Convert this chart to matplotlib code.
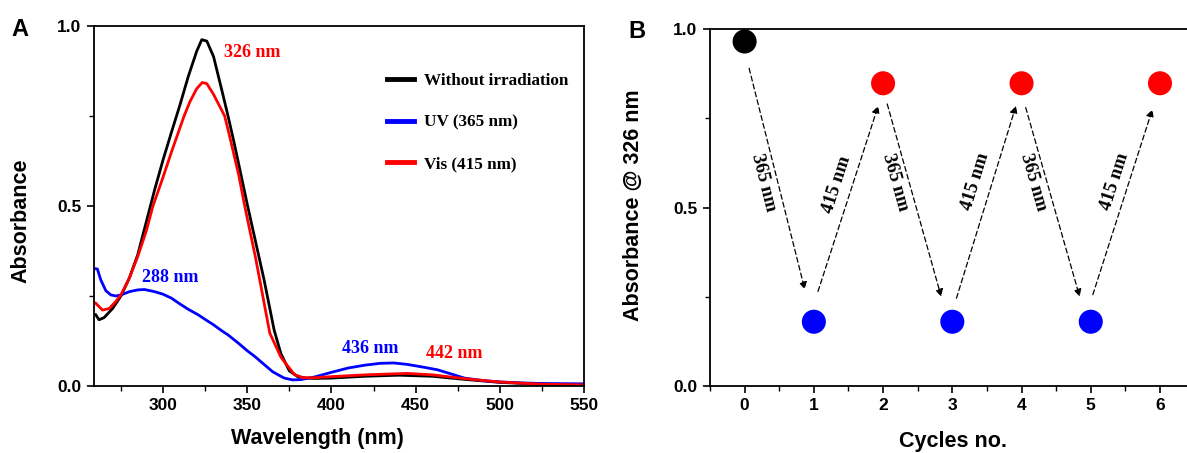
import matplotlib
matplotlib.use("Agg")
import matplotlib.pyplot as plt
import numpy as np
from matplotlib.ticker import MultipleLocator

SANS = "Liberation Sans"
SERIF = "Liberation Serif"

# ---- panel A: absorption spectra ----
wl_dark = [260, 262, 265, 270, 275, 280, 285, 290, 295, 300, 305, 310, 315, 320, 323,
           326, 330, 335, 338.6, 342, 345, 350, 355, 360, 366, 370, 375, 380, 385, 390,
           400, 420, 440, 460, 480, 500, 525, 550]
abs_dark = [0.198, 0.184, 0.19, 0.215, 0.25, 0.30, 0.365, 0.455, 0.545, 0.628, 0.705,
            0.78, 0.86, 0.93, 0.962, 0.958, 0.915, 0.82, 0.75, 0.68, 0.615, 0.505,
            0.40, 0.295, 0.155, 0.09, 0.042, 0.026, 0.022, 0.021, 0.022, 0.027, 0.03,
            0.027, 0.018, 0.01, 0.005, 0.003]

wl_vis = [260, 264, 268, 272, 275, 280, 285, 290, 294, 300, 305, 312.5, 316, 320, 323.3,
          326, 330, 336.6, 340, 345, 348.5, 355, 363.4, 370, 374.3, 378, 383, 390, 400,
          420, 445, 460, 480, 500, 525, 550]
abs_vis = [0.23, 0.211, 0.215, 0.235, 0.253, 0.30, 0.36, 0.43, 0.50, 0.58, 0.65, 0.75,
           0.79, 0.826, 0.843, 0.84, 0.81, 0.75, 0.685, 0.585, 0.50, 0.355, 0.147,
           0.08, 0.054, 0.032, 0.023, 0.023, 0.026, 0.031, 0.035, 0.031, 0.02, 0.011,
           0.005, 0.003]

wl_uv = [259.5, 261, 263, 266, 269, 272, 275, 280, 285, 289, 295, 300, 305, 310, 315,
         320.8, 325, 330, 335, 338.6, 345, 350, 354.5, 360, 365, 368.4, 372, 377, 382,
         390, 400, 410, 420, 429, 437, 445, 455, 463, 470, 479, 490, 498, 510, 525, 550]
abs_uv = [0.326, 0.325, 0.295, 0.265, 0.253, 0.25, 0.253, 0.262, 0.267, 0.268, 0.262,
          0.255, 0.244, 0.228, 0.213, 0.198, 0.185, 0.17, 0.153, 0.142, 0.118, 0.098,
          0.082, 0.06, 0.04, 0.031, 0.022, 0.017, 0.018, 0.025, 0.038, 0.05, 0.058,
          0.063, 0.064, 0.06, 0.052, 0.045, 0.035, 0.022, 0.015, 0.012, 0.009, 0.007,
          0.006]

series_labels = ["Without irradiation", "UV (365 nm)", "Vis (415 nm)"]
series_colors = ["#000000", "#0000ff", "#ff0000"]

# peak annotations
peak_text = ["326 nm", "288 nm", "436 nm", "442 nm"]
peak_x = [353, 304, 423, 473]
peak_y = [0.927, 0.30, 0.105, 0.09]
peak_col = ["#ff0000", "#0000ff", "#0000ff", "#ff0000"]

# ---- panel B: switching cycles ----
cycles = [0, 1, 2, 3, 4, 5, 6]
abs_326 = [0.965, 0.18, 0.848, 0.18, 0.848, 0.18, 0.848]
cycle_colors = ["#000000", "#0000ff", "#ff0000", "#0000ff", "#ff0000", "#0000ff", "#ff0000"]

arrow_start = [(0.065, 0.89), (1.06, 0.265), (2.06, 0.79), (3.06, 0.246), (4.06, 0.78), (5.03, 0.256)]
arrow_end = [(0.87, 0.27), (1.93, 0.785), (2.84, 0.25), (3.92, 0.785), (4.84, 0.25), (5.89, 0.775)]
arrow_text = ["365 nm", "415 nm", "365 nm", "415 nm", "365 nm", "415 nm"]
arrow_text_xy = [(0.28, 0.57), (1.33, 0.565), (2.17, 0.57), (3.33, 0.574), (4.17, 0.57), (5.35, 0.574)]


def style_axes(ax):
    for s in ax.spines.values():
        s.set_linewidth(1.3)
    ax.tick_params(which="major", direction="out", length=5, width=1.2, pad=4,
                   labelsize=12.5, top=False, right=False)
    ax.tick_params(which="minor", direction="out", length=3.5, width=1.0,
                   top=False, right=False)
    for lab in ax.get_xticklabels() + ax.get_yticklabels():
        lab.set_fontfamily(SANS)
        lab.set_fontweight("bold")


W, H = 1187, 453
fig = plt.figure(figsize=(W / 100, H / 100), dpi=100)

# ---------------- panel A ----------------
axA = fig.add_axes([94 / W, 1 - 386 / H, (584 - 94) / W, (386 - 26) / H])
for wl, ab, lab, col in zip([wl_dark, wl_uv, wl_vis], [abs_dark, abs_uv, abs_vis],
                            series_labels, series_colors):
    axA.plot(wl, ab, color=col, lw=2.0, label=lab, solid_joinstyle="round")
axA.set_xlim(259, 550)
axA.set_ylim(0, 1.0)
axA.xaxis.set_minor_locator(MultipleLocator(25))
axA.yaxis.set_major_locator(MultipleLocator(0.5))
axA.yaxis.set_minor_locator(MultipleLocator(0.25))
axA.set_xticks([300, 350, 400, 450, 500, 550])
style_axes(axA)
axA.set_xlabel("Wavelength (nm)", fontsize=15.5, fontweight="bold", family=SANS)
axA.set_ylabel("Absorbance", fontsize=15.5, fontweight="bold", family=SANS)
axA.xaxis.set_label_coords(0.457, -0.118)
axA.yaxis.set_label_coords(-0.128, 0.46)
for t, x, y, c in zip(peak_text, peak_x, peak_y, peak_col):
    axA.text(x, y, t, color=c, fontsize=13, fontweight="bold", family=SERIF,
             ha="center", va="center")
leg = axA.legend(loc="center left", bbox_to_anchor=(0.598, 0.731), frameon=False,
                 borderpad=0, borderaxespad=0, handlelength=1.6, handletextpad=0.55,
                 labelspacing=1.5, prop={"family": SERIF, "weight": "bold", "size": 12.3})
for ln in leg.get_lines():
    ln.set_linewidth(3.5)
fig.text(20 / W, 1 - 30 / H, "A", fontsize=17, fontweight="bold", family=SANS,
         ha="center", va="center")

# ---------------- panel B ----------------
axB = fig.add_axes([710 / W, 1 - 386 / H, (W - 710) / W, (386 - 29) / H])
axB.scatter(cycles, abs_326, s=300, c=cycle_colors, edgecolors="none", zorder=3,
            clip_on=False)
axB.set_xlim(-0.5, 6.39)
axB.set_ylim(0, 1.0)
axB.xaxis.set_major_locator(MultipleLocator(1))
axB.xaxis.set_minor_locator(MultipleLocator(0.5))
axB.yaxis.set_major_locator(MultipleLocator(0.5))
axB.yaxis.set_minor_locator(MultipleLocator(0.25))
axB.spines["right"].set_visible(False)
style_axes(axB)
axB.set_xlabel("Cycles no.", fontsize=15.5, fontweight="bold", family=SANS)
axB.set_ylabel("Absorbance @ 326 nm", fontsize=15.5, fontweight="bold", family=SANS)
axB.xaxis.set_label_coords(0.51, -0.125)
axB.yaxis.set_label_coords(-0.138, 0.507)

for (x0, y0), (x1, y1) in zip(arrow_start, arrow_end):
    axB.annotate("", xy=(x1, y1), xytext=(x0, y0),
                 arrowprops=dict(arrowstyle="-|>", linestyle=(0, (4, 2.5)), lw=0.9,
                                 color="k", mutation_scale=11, shrinkA=0, shrinkB=0))

# rotate each arrow label along its arrow (angle measured on screen)
for t, (tx, ty), (x0, y0), (x1, y1) in zip(arrow_text, arrow_text_xy, arrow_start, arrow_end):
    p0 = axB.transData.transform((x0, y0))
    p1 = axB.transData.transform((x1, y1))
    ang = np.degrees(np.arctan2(p1[1] - p0[1], p1[0] - p0[0]))
    if ang > 90:
        ang -= 180
    if ang < -90:
        ang += 180
    axB.text(tx, ty, t, rotation=ang, rotation_mode="anchor", fontsize=13.5,
             fontweight="bold", family=SERIF, ha="center", va="center")

fig.text(637 / W, 1 - 31 / H, "B", fontsize=17, fontweight="bold", family=SANS,
         ha="center", va="center")

fig.savefig("out.png", dpi=100)
